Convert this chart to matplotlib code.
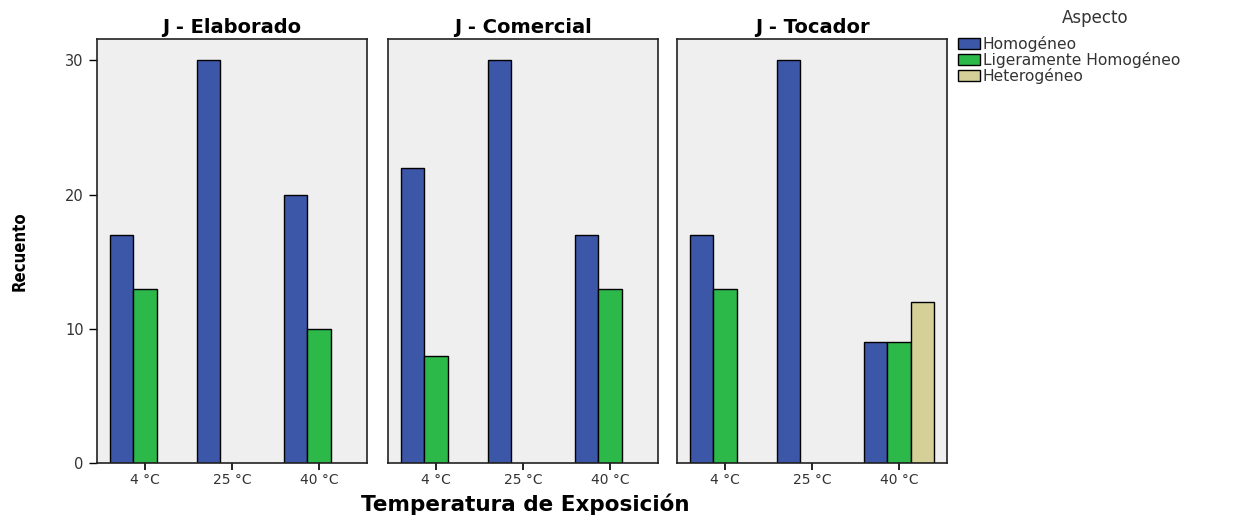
import matplotlib
matplotlib.use('Agg')
import matplotlib.pyplot as plt
from matplotlib.patches import Patch

# data
panels = ['J - Elaborado', 'J - Comercial', 'J - Tocador']
temps = ['4 °C', '25 °C', '40 °C']
series = ['Homogéneo', 'Ligeramente Homogéneo', 'Heterogéneo']

homogeneo = [[17, 30, 20], [22, 30, 17], [17, 30, 9]]
ligeramente = [[13, 0, 10], [8, 0, 13], [13, 0, 9]]
heterogeneo = [[0, 0, 0], [0, 0, 0], [0, 0, 12]]

colors = ['#3C56A8', '#2DB84A', '#D5CF98']

fig = plt.figure(figsize=(12.46, 5.15), dpi=100)
W, H = 1246.0, 515.0
lefts = [97, 388, 677]
pw = 270
top, bottom = 39, 463
width = 0.27

for p in range(3):
    ax = fig.add_axes([lefts[p] / W, 1 - bottom / H, pw / W, (bottom - top) / H])
    ax.set_facecolor('#EFEFEF')
    vals = [homogeneo[p], ligeramente[p], heterogeneo[p]]
    for s in range(3):
        xs = [i + (s - 1) * width for i in range(3) if vals[s][i] > 0]
        hs = [v for v in vals[s] if v > 0]
        ax.bar(xs, hs, width=width, color=colors[s], edgecolor='black', linewidth=1.0)
    ax.set_xlim(-0.555, 2.555)
    ax.set_ylim(0, 31.6)
    ax.set_xticks(range(3))
    ax.set_xticklabels(temps, fontsize=10, color='#333333')
    ax.set_yticks([0, 10, 20, 30])
    if p == 0:
        ax.set_yticklabels(['0', '10', '20', '30'], fontsize=10.5, color='#333333')
        ax.set_ylabel('Recuento', fontsize=12, fontweight='bold', fontstretch='condensed', labelpad=26)
    else:
        ax.tick_params(axis='y', left=False, labelleft=False)
    ax.tick_params(axis='x', length=5, width=1.2, pad=2)
    ax.tick_params(axis='y', length=6, width=1)
    for sp in ax.spines.values():
        sp.set_linewidth(1.2)
        sp.set_color('#222222')
    ax.set_title(panels[p], fontsize=14, fontweight='bold', pad=4)

fig.text(525 / W, 1 - 504 / H, 'Temperatura de Exposición', fontsize=15.5,
         fontweight='bold', ha='center', va='center')

handles = [Patch(facecolor=c, edgecolor='black', linewidth=1.0) for c in colors]
leg = fig.legend(handles, series, loc='upper left', bbox_to_anchor=(947 / W, 1 - 25 / H),
                 frameon=False, fontsize=11.2,
                 handlelength=1.4, handleheight=0.75, handletextpad=0.2, labelspacing=0.0,
                 borderpad=0.2)
for t in leg.get_texts():
    t.set_color('#333333')
fig.text(1095 / W, 1 - 18 / H, 'Aspecto', fontsize=12, color='#333333', ha='center', va='center')

fig.savefig('out.png', dpi=100)
